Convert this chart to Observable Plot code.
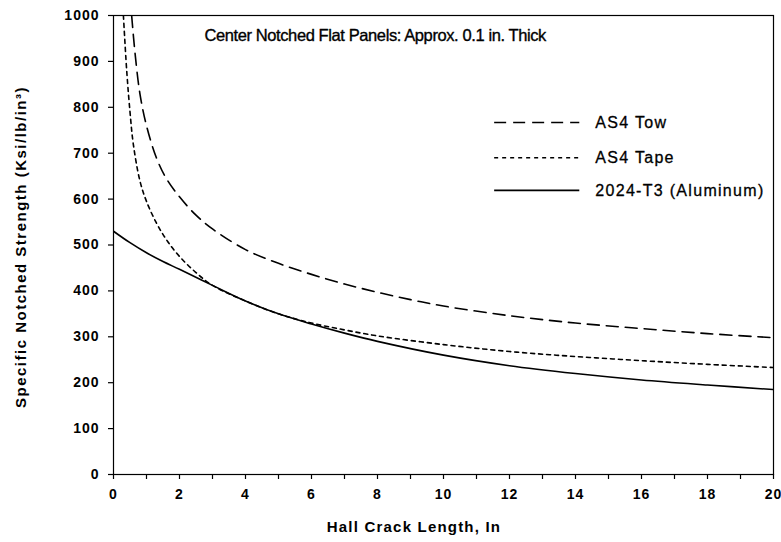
<!DOCTYPE html>
<html>
<head>
<meta charset="utf-8">
<script src="https://cdn.jsdelivr.net/npm/d3@7"></script>
<script src="https://cdn.jsdelivr.net/npm/@observablehq/plot@0.6"></script>
<style>
  body { margin: 0; background: #fff; }
  #chart svg { font-family: "Liberation Sans", Arial, sans-serif; }
</style>
</head>
<body>
<div id="chart"></div>
<script>
const towX = [0.55, 0.65, 0.8, 1.0, 1.3, 1.6, 2, 2.5, 3, 4, 5, 6, 7, 8, 9, 10, 12, 14, 16, 18, 20];
const towY = [1000, 920, 830, 760, 690, 645, 605, 565, 535, 490, 460, 436, 415, 397, 381, 367, 346, 330, 318, 307, 298];

const tapeX = [0.3, 0.4, 0.5, 0.6, 0.8, 1.0, 1.3, 1.6, 2, 2.5, 3, 4, 5, 6, 7, 8, 10, 12, 14, 16, 18, 20];
const tapeY = [1000, 880, 790, 720, 640, 595, 548, 512, 475, 440, 412, 378, 350, 330, 315, 302, 283, 268, 257, 248, 240, 233];

const alX = [0, 0.5, 1, 1.5, 2, 3, 4, 5, 6, 7, 8, 10, 12, 14, 16, 18, 20];
const alY = [530, 505, 483, 464, 447, 412, 378, 350, 328, 308, 290, 260, 237, 220, 206, 195, 185];

const legendLabels = ["AS4 Tow", "AS4 Tape", "2024-T3 (Aluminum)"];
const legendY = [767, 690, 619];
const legendX0 = 11.55, legendX1 = 14.13, legendTextX = 14.6;

const titleText = "Center Notched Flat Panels: Approx. 0.1 in. Thick";
const xTitle = "Hall Crack Length, In";
const yTitle = "Specific Notched Strength (Ksi/lb/in\u00B3)";

const tow = towX.map((x, i) => ({x, y: towY[i]}));
const tape = tapeX.map((x, i) => ({x, y: tapeY[i]}));
const al = alX.map((x, i) => ({x, y: alY[i]}));
const dashes = ["12,7", "4,4", null];
const legend = legendLabels.map((label, i) => ({label, y: legendY[i], dash: dashes[i]}));

const chart = Plot.plot({
  width: 781,
  height: 542,
  marginLeft: 113,
  marginRight: 8,
  marginTop: 15,
  marginBottom: 68,
  x: {domain: [0, 20]},
  y: {domain: [0, 1000]},
  style: {fontFamily: "'Liberation Sans', Arial, sans-serif", color: "#000", background: "#fff"},
  marks: [
    Plot.frame({stroke: "#000", strokeWidth: 1.2}),
    Plot.axisX({ticks: d3.range(0, 21, 1), tickSize: 5, tickPadding: 10,
      tickFormat: d => d % 2 === 0 ? String(d) : "", fontSize: 14, fontWeight: "bold", label: null, strokeWidth: 1.2}),
    Plot.axisY({ticks: d3.range(0, 1001, 100), tickSize: 5, tickPadding: 9, tickFormat: d3.format("d"),
      fontSize: 14, fontWeight: "bold", label: null, strokeWidth: 1.2}),
    Plot.line(tow, {x: "x", y: "y", curve: "catmull-rom", stroke: "#000", strokeWidth: 1.6, strokeDasharray: "12,7", clip: true}),
    Plot.line(tape, {x: "x", y: "y", curve: "catmull-rom", stroke: "#000", strokeWidth: 1.6, strokeDasharray: "4,4", clip: true}),
    Plot.line(al, {x: "x", y: "y", curve: "catmull-rom", stroke: "#000", strokeWidth: 1.6, clip: true}),
    Plot.ruleY(legend.slice(0,1), {y: "y", x1: legendX0, x2: legendX1, stroke: "#000", strokeWidth: 1.6, strokeDasharray: "12,7"}),
    Plot.ruleY(legend.slice(1,2), {y: "y", x1: legendX0, x2: legendX1, stroke: "#000", strokeWidth: 1.6, strokeDasharray: "4,4"}),
    Plot.ruleY(legend.slice(2,3), {y: "y", x1: legendX0, x2: legendX1, stroke: "#000", strokeWidth: 1.6}),
    Plot.text(legend, {x: legendTextX, y: "y", text: "label", textAnchor: "start", fontSize: 16, fill: "#000", stroke: "#000", strokeWidth: 0.3}),
    Plot.text([titleText], {x: 7.93, y: 956, text: d => d, fontSize: 16.5, fill: "#000", stroke: "#000", strokeWidth: 0.35})
  ]
});

const svg = d3.select(chart);
svg.selectAll("g[aria-label='x-axis tick label'] text, g[aria-label='y-axis tick label'] text")
  .attr("letter-spacing", "1px");
svg.selectAll("text").each(function() {
  const t = this.textContent;
  if (legendLabels.includes(t)) this.setAttribute("letter-spacing", "1.3px");
  if (t === titleText) this.setAttribute("letter-spacing", "-0.4px");
});
svg.append("text")
  .attr("x", 414).attr("y", 532)
  .attr("text-anchor", "middle")
  .attr("font-size", 15).attr("font-weight", "bold")
  .attr("letter-spacing", "1.2px")
  .attr("fill", "#000")
  .text(xTitle);
svg.append("text")
  .attr("transform", "translate(22,247) rotate(-90)")
  .attr("text-anchor", "middle")
  .attr("dominant-baseline", "middle")
  .attr("font-size", 15).attr("font-weight", "bold")
  .attr("letter-spacing", "1.5px")
  .attr("fill", "#000")
  .text(yTitle);

document.getElementById("chart").appendChild(chart);
</script>
</body>
</html>
